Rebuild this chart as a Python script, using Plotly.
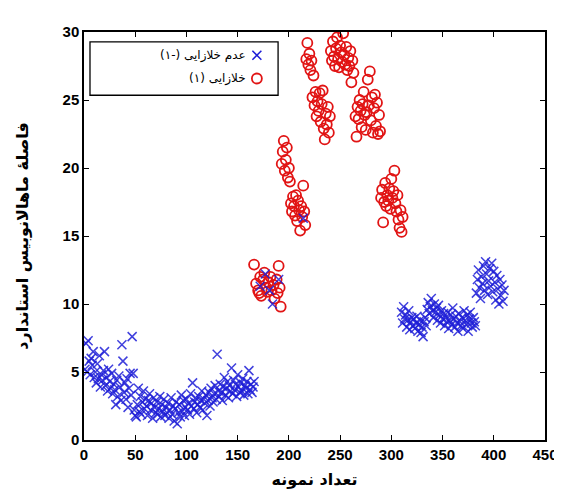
import plotly.graph_objects as go

# ---- data: sample number vs standardized Mahalanobis distance ----
blue_x = list(range(1, 167)) + [172, 177, 181, 184, 190, 214] + list(range(310, 411))
blue_y = [
    5.2, 7.1, 5.0, 7.3, 5.8, 4.8, 6.0, 5.5, 6.5, 4.6,
    5.0, 4.2, 5.6, 4.5, 6.2, 3.9, 4.8, 4.4, 5.1, 6.5,
    4.0, 4.6, 3.6, 5.2, 4.3, 3.8, 4.9, 3.4, 4.1, 3.7,
    2.6, 4.4, 3.2, 4.7, 3.9, 2.9, 7.0, 5.8, 3.5, 4.2,
    3.0, 4.5, 2.4, 3.8, 4.9, 3.3, 7.6, 4.9, 2.2, 1.8,
    1.7, 2.6, 3.8, 2.1, 3.2, 1.9, 2.8, 3.6, 2.3, 3.0,
    2.5, 1.8, 2.9, 3.4, 2.2, 2.7, 1.6, 3.1, 2.4, 2.0,
    2.8, 1.9, 2.3, 3.2, 1.7, 2.6, 2.1, 3.0, 1.8, 2.4,
    2.0, 2.7, 1.6, 2.2, 3.1, 1.9, 2.5, 1.4, 2.3, 2.8,
    1.2, 2.0, 2.6, 1.7, 3.3, 2.1, 2.9, 1.8, 2.4, 3.0,
    2.2, 2.7, 1.9, 3.4, 2.5, 4.2, 2.3, 2.8, 3.1, 2.0,
    2.6, 3.2, 2.4, 2.9, 3.6, 2.2, 3.0, 2.7, 3.3, 1.8,
    2.9, 3.5, 2.5, 3.8, 3.1, 2.8, 3.4, 4.0, 3.0, 6.3,
    3.6, 3.2, 4.1, 3.5, 2.9, 3.9, 4.6, 3.3, 3.8, 4.3,
    3.1, 4.0, 3.6, 5.3, 3.4, 4.4, 3.7, 4.1, 3.2, 4.8,
    3.9, 3.5, 4.2, 3.6, 4.5, 3.3, 4.0, 3.8, 4.3, 3.4,
    5.1, 3.7, 4.1, 3.5, 3.9, 4.3,
    11.3, 12.2, 11.0, 10.0, 11.8, 16.3,
    9.4, 8.6, 9.8, 8.9, 9.2, 8.3, 8.8, 9.5, 8.1, 8.7,
    9.0, 8.4, 8.9, 8.2, 8.6, 9.1, 8.0, 8.5, 8.8, 7.9,
    8.3, 7.6, 8.7, 9.0, 8.4, 9.6, 10.1, 9.3, 9.8, 10.4,
    9.5, 9.0, 10.0, 9.4, 9.7, 8.8, 9.9, 9.2, 8.6, 9.5,
    8.9, 9.3, 8.4, 9.0, 8.7, 9.4, 8.2, 8.8, 9.2, 8.5,
    9.7, 8.9, 8.3, 9.1, 8.6, 8.0, 9.3, 8.7, 8.4, 9.0,
    8.2, 9.5, 8.8, 8.5, 9.2, 8.0, 8.9, 9.4, 8.6, 8.3,
    9.0, 8.7, 8.4,
    10.8, 11.8, 12.5, 11.2, 10.4, 12.0, 11.5, 12.8, 11.0, 13.1,
    12.2, 10.7, 11.7, 12.6, 11.3, 13.0, 10.9, 12.4, 11.6, 10.3,
    12.1, 11.1, 10.0, 11.8, 10.6, 11.4, 10.2, 11.0,
]

red_x = [
    166, 168, 170, 171, 172, 173, 175, 176, 178, 179, 180, 182, 183, 185, 186, 188, 189, 190, 191, 192,
    193, 194, 195, 196, 197, 198, 199, 200, 201, 202, 203, 204, 205, 206, 207, 208, 209, 210, 211, 212,
    213, 214, 215, 216,
    217, 218, 219, 220, 221, 222, 223, 224, 225, 226, 227, 228, 229, 230, 231, 232, 233, 234, 235, 236,
    237, 238, 239, 240,
    241, 242, 243, 244, 245, 246, 247, 248, 249, 250, 251, 252, 253, 254, 255, 256, 257, 258, 259, 260,
    261, 262, 263,
    265, 266, 267, 268, 269, 270, 271, 272, 273, 274, 275, 276, 277, 278, 279, 280, 281, 282, 283, 284,
    285, 286, 287, 288, 289,
    290, 291, 292, 293, 294, 295, 296, 297, 298, 299, 300, 301, 302, 303, 304, 305, 306, 307, 308, 309,
    310, 311,
]
red_y = [
    12.9, 11.5, 11.0, 10.8, 12.0, 10.6, 11.8, 12.3, 11.2, 10.9, 11.6, 12.0, 11.0, 11.4, 10.4, 11.8, 10.8, 12.8, 11.2, 9.8,
    20.3, 21.2, 22.0, 19.8, 20.6, 21.5, 19.3, 20.0, 19.0, 17.4, 16.8, 17.9, 17.2, 16.5, 18.0, 16.1, 17.6, 16.9, 15.4, 17.2,
    16.4, 18.7, 16.8, 15.8,
    28.0, 29.2, 27.6, 28.4, 27.2, 27.9, 25.2, 26.8, 24.6, 25.6, 23.8, 24.9, 24.2, 25.5, 23.4, 24.7, 25.7, 22.9, 22.1, 24.0,
    23.2, 24.5, 22.6, 23.8,
    28.6, 27.9, 29.3, 28.2, 27.5, 28.8, 29.6, 28.0, 27.4, 29.0, 28.5, 27.8, 29.9, 28.3, 27.6, 28.9, 27.2, 28.1, 27.5, 28.6,
    26.3, 27.9, 27.0,
    23.8, 22.3, 24.5, 23.6, 25.0, 24.2, 23.0, 24.7, 25.6, 23.9, 22.8, 24.1, 26.5, 24.6, 27.1, 23.5, 25.2, 22.6, 24.4, 25.4,
    23.1, 24.8, 22.5, 23.9, 22.7,
    17.8, 18.4, 16.0, 17.5, 18.9, 17.2, 18.0, 17.6, 18.5, 17.0, 19.2, 17.8, 18.3, 19.8, 17.4, 16.8, 18.0, 16.2, 15.6, 16.9,
    15.3, 16.4,
]

x_ticks = [0, 50, 100, 150, 200, 250, 300, 350, 400, 450]
y_ticks = [0, 5, 10, 15, 20, 25, 30]

name_neg = "عدم خلازایی (-۱)"
name_pos = "خلازایی (۱)"
x_title = "تعداد نمونه"
y_title = "فاصلهٔ ماهالانوبیس استاندارد"

RED = "rgb(225,20,20)"
BLUE = "rgb(30,30,215)"

fig = go.Figure()
fig.add_trace(go.Scatter(
    x=red_x, y=red_y, mode="markers", name=name_pos, showlegend=False,
    marker=dict(symbol="circle-open", size=10, color=RED, line=dict(width=1.8, color=RED)),
))
fig.add_trace(go.Scatter(
    x=blue_x, y=blue_y, mode="markers", name=name_neg, showlegend=False,
    marker=dict(symbol="x-thin-open", size=9, color=BLUE, opacity=0.85,
                line=dict(width=1.5, color=BLUE)),
))

# manual legend (symbol on the right, as in the original)
leg_x0, leg_x1, leg_y0, leg_y1 = 0.013, 0.421, 0.845, 0.976
row_y = [0.943, 0.886]
key_x = 0.375
text_x = 0.355
fig.add_shape(type="rect", xref="paper", yref="paper", x0=leg_x0, x1=leg_x1, y0=leg_y0, y1=leg_y1,
              line=dict(color="black", width=1.3), fillcolor="white", layer="below")
fig.add_trace(go.Scatter(
    x=[key_x], y=[row_y[0]], xaxis="x2", yaxis="y2", mode="markers", showlegend=False, hoverinfo="skip",
    marker=dict(symbol="x-thin-open", size=9, color=BLUE, line=dict(width=1.5, color=BLUE)),
))
fig.add_trace(go.Scatter(
    x=[key_x], y=[row_y[1]], xaxis="x2", yaxis="y2", mode="markers", showlegend=False, hoverinfo="skip",
    marker=dict(symbol="circle-open", size=10, color=RED, line=dict(width=1.8, color=RED)),
))
for txt, yy in zip([name_neg, name_pos], row_y):
    fig.add_annotation(text=txt, xref="paper", yref="paper", x=text_x, y=yy, xanchor="right",
                       yanchor="middle", showarrow=False,
                       font=dict(family="DejaVu Sans", size=12, color="black"))

axis_common = dict(showline=True, linecolor="black", linewidth=1.5, mirror="ticks", ticks="inside",
                   ticklen=5, tickwidth=1.2, tickcolor="black", showgrid=False, zeroline=False,
                   tickfont=dict(family="Liberation Sans", size=15, color="black", weight="bold"))
fig.update_layout(
    width=562, height=490,
    margin=dict(l=76, r=14, t=24, b=58),
    paper_bgcolor="white", plot_bgcolor="white",
    xaxis=dict(range=[0, 450], tickvals=x_ticks, ticktext=[str(v) for v in x_ticks],
               title=dict(text=x_title, standoff=12,
                          font=dict(family="DejaVu Sans", size=16, color="black", weight="bold")),
               **axis_common),
    yaxis=dict(range=[0, 30], tickvals=y_ticks, ticktext=[str(v) for v in y_ticks],
               title=dict(text=y_title, standoff=30,
                          font=dict(family="DejaVu Sans", size=16, color="black", weight="bold")),
               **axis_common),
    xaxis2=dict(overlaying="x", range=[0, 1], visible=False, fixedrange=True),
    yaxis2=dict(overlaying="y", range=[0, 1], visible=False, fixedrange=True),
    showlegend=False,
)
fig.write_html("out.html")
